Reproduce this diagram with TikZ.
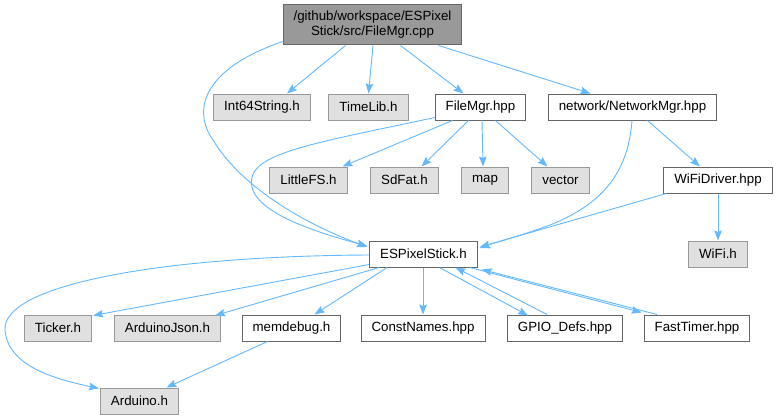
\documentclass[tikz,border=0pt]{standalone}
\usepackage{fontspec}
\setmainfont{Liberation Sans}
\usetikzlibrary{arrows.meta,calc}
\definecolor{edgeblue}{HTML}{63B8FF}
\definecolor{darkborder}{HTML}{666666}
\definecolor{lightborder}{HTML}{999999}
\definecolor{lightfill}{HTML}{E0E0E0}
\definecolor{rootfill}{HTML}{999999}
\tikzset{
  base/.style={draw, line width=1pt, inner xsep=10.5pt, inner ysep=0pt, minimum height=26pt,
    font=\fontsize{13.33}{15}\selectfont, text=black, anchor=center},
  whitebox/.style={base, draw=darkborder, fill=white},
  graybox/.style={base, draw=lightborder, fill=lightfill},
  rootbox/.style={base, draw=darkborder, fill=rootfill, minimum height=40pt, align=center},
  edge/.style={draw=edgeblue, line width=0.9pt, -{Stealth[length=10pt,width=7.5pt,inset=1.5pt]}}
}
\begin{document}
\begin{tikzpicture}[x=1pt,y=-1pt]
\useasboundingbox (0,0) rectangle (776,420);
% nodes
\node[rootbox] (root) at (372.5,25) {/github/workspace/ESPixel\\Stick/src/FileMgr.cpp};
\node[graybox] (int64) at (262,107) {Int64String.h};
\node[graybox] (timelib) at (368.5,107) {TimeLib.h};
\node[whitebox] (fm) at (480.5,107) {FileMgr.hpp};
\node[whitebox] (nm) at (632.5,107) {network/NetworkMgr.hpp};
\node[graybox] (lfs) at (308.5,180) {LittleFS.h};
\node[graybox] (sdfat) at (404.5,180) {SdFat.h};
\node[graybox] (map) at (485,180) {map};
\node[graybox] (vector) at (560.5,180) {vector};
\node[whitebox] (wifid) at (718,180) {WiFiDriver.hpp};
\node[graybox] (wifi) at (718,254) {WiFi.h};
\node[whitebox] (esp) at (423.5,254) {ESPixelStick.h};
\node[graybox] (ticker) at (58,328) {Ticker.h};
\node[graybox] (aj) at (167.5,328) {ArduinoJson.h};
\node[whitebox] (memd) at (291.5,328) {memdebug.h};
\node[whitebox] (cn) at (423,328) {ConstNames.hpp};
\node[whitebox] (gpio) at (565,328) {GPIO\_Defs.hpp};
\node[whitebox] (ft) at (697,328) {FastTimer.hpp};
\node[graybox] (ard) at (139.5,401) {Arduino.h};
% edges from root
\draw[edge] ([xshift=-27pt]root.south) -- ([xshift=25pt]int64.north);
\draw[edge] ([xshift=0.5pt]root.south) -- (timelib.north);
\draw[edge] ([xshift=28pt]root.south) -- ([xshift=-17pt]fm.north);
\draw[edge] ([xshift=66pt]root.south) -- ([xshift=-42pt]nm.north);
\draw[edge] ([yshift=4pt]root.south west) .. controls (200,70) and (193,112) .. (213,140)
   .. controls (240,185) and (300,222) .. ([xshift=-2pt,yshift=7pt]esp.west);
% edges from FileMgr
\draw[edge] ([yshift=3pt]fm.south west) .. controls (330,140) and (268,150) .. (254,172)
   .. controls (238,205) and (300,228) .. ([xshift=-2pt,yshift=8pt]esp.west);
\draw[edge] ([xshift=-28pt]fm.south) -- ([xshift=34pt]lfs.north);
\draw[edge] ([xshift=-12pt]fm.south) -- ([xshift=17pt]sdfat.north);
\draw[edge] ([xshift=1.5pt]fm.south) -- ([xshift=-2pt]map.north);
\draw[edge] ([xshift=15pt]fm.south) -- ([xshift=-13pt]vector.north);
% network
\draw[edge] ([xshift=-0.5pt]nm.south) .. controls (628,175) and (600,205) .. (550,225)
   .. controls (520,236) and (500,241) .. ([xshift=2pt,yshift=6pt]esp.east);
\draw[edge] ([xshift=15pt]nm.south) -- ([xshift=-18pt]wifid.north);
\draw[edge] ([xshift=3pt]wifid.south west) -- ([xshift=2pt,yshift=7pt]esp.east);
\draw[edge] (wifid.south) -- (wifi.north);
% from ESPixelStick
\draw[edge] ([yshift=-1pt]esp.west) .. controls (160,256) and (2,285) .. (5,330)
   .. controls (8,368) and (60,380) .. ([xshift=-1pt,yshift=-1pt]ard.north west);
\draw[edge] ([yshift=3pt]esp.south west) -- ([xshift=1pt,yshift=-1pt]ticker.north east);
\draw[edge] ([xshift=10pt]esp.south west) -- ([xshift=-6pt,yshift=-1pt]aj.north east);
\draw[edge] ([xshift=18pt]esp.south west) -- ([xshift=23pt]memd.north);
\draw[edge] ([xshift=-0.5pt]esp.south) -- (cn.north);
\draw[edge] ([xshift=16pt]esp.south) -- ([xshift=-37pt,yshift=-1pt]gpio.north);
\draw[edge] ([xshift=-18pt]gpio.north) -- ([xshift=32pt]esp.south);
\draw[edge] ([xshift=-8pt]esp.south east) -- ([xshift=-2pt,yshift=2pt]ft.north west);
\draw[edge] ([xshift=-40pt]ft.north) -- ([xshift=4pt,yshift=-2pt]esp.south east);
\draw[edge] ([xshift=-24pt]memd.south) -- ([xshift=27pt]ard.north);
\end{tikzpicture}
\end{document}
